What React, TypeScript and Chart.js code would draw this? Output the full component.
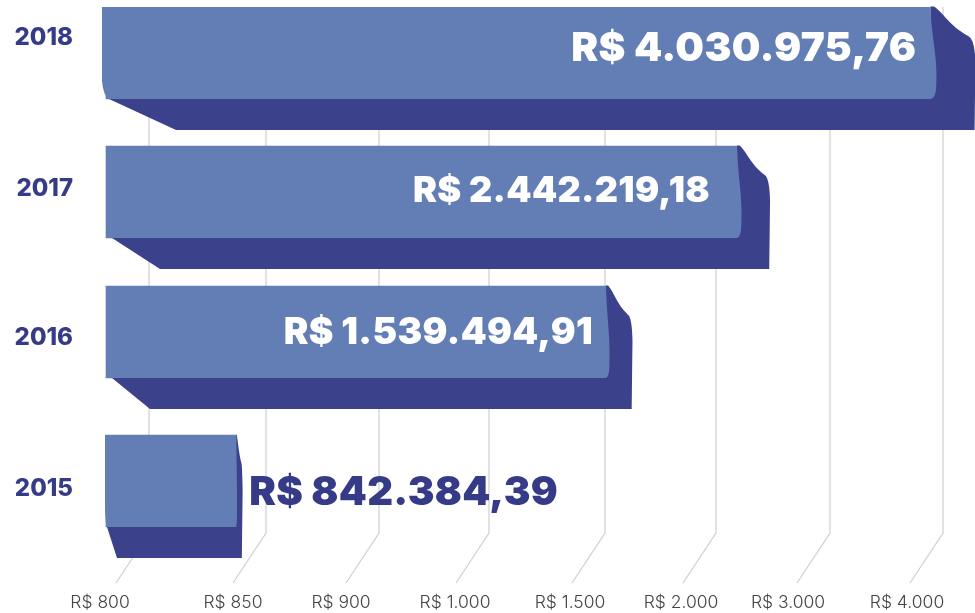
import React, { useEffect, useRef } from "react";
import { Chart, registerables, LinearScale, CategoryScale } from "chart.js";

const years = ["2018", "2017", "2016", "2015"];
const revenue = [4030975.76, 2442219.18, 1539494.91, 842384.39];
const valueLabels = ["R$ 4.030.975,76", "R$ 2.442.219,18", "R$ 1.539.494,91", "R$ 842.384,39"];
const tickValues = [800000, 850000, 900000, 1000000, 1500000, 2000000, 3000000, 4000000];
const tickLabels = ["R$ 800", "R$ 850", "R$ 900", "R$ 1.000", "R$ 1.500", "R$ 2.000", "R$ 3.000", "R$ 4.000"];
const baseValue = 750000;

// Irregular axis: pixel stops of the three planes of the drawing
const labelStops = [100, 233, 341, 455, 570, 681, 788, 907];
const gridStops = [149, 266, 379, 489, 605, 716, 830, 943];
const barStops = [106, 120, 257, 370, 480, 598, 699, 785, 926];
const barStopValues = [baseValue, ...tickValues];
const yearLabelStops = [37.5, 188.5, 337.5, 488.5];
const barCentreStops = [53, 192, 332, 481];
const barDepth = [45, 33, 26.5, 6.5];
const cornerInset = [7, 6, 6, 2];
const floorShift = [67, 48, 38, 10];
const leftShift = [-4, 0, 0, -1];
const labelShift = [-14, -27, -13, 13];
const labelCentre = [49, 191, 333, 493];
const labelSize = [40.4, 36, 37, 40];

const FRONT = "#627eb5";
const BACK = "#3c418b";
const NAVY = "#363b88";

function interpolate(v: number, xs: number[], ys: number[]) {
  const n = xs.length;
  let i = 0;
  while (i < n - 2 && v > xs[i + 1]) i++;
  return ys[i] + ((v - xs[i]) / (xs[i + 1] - xs[i])) * (ys[i + 1] - ys[i]);
}

class StopScale extends (LinearScale as any) {
  static id = "stops";
  static defaults = (LinearScale as any).defaults;
  buildTicks() {
    return tickValues.map((value) => ({ value }));
  }
  getPixelForValue(v: number) {
    return interpolate(v, this.options.stopValues, this.options.stops);
  }
  getValueForPixel(p: number) {
    return interpolate(p, this.options.stops, this.options.stopValues);
  }
}

class StopCategory extends (CategoryScale as any) {
  static id = "stopCategory";
  static defaults = (CategoryScale as any).defaults;
  getPixelForValue(v: any) {
    const i = typeof v === "number" ? v : this.parse(v);
    return this.options.stops[i];
  }
}

Chart.register(...registerables, StopScale as any, StopCategory as any);

const gridPlugin = {
  id: "elbowGrid",
  beforeDatasetsDraw(chart: any) {
    const { ctx } = chart;
    const s = chart.scales.xGrid;
    ctx.save();
    ctx.strokeStyle = "#cfcfcf";
    ctx.lineWidth = 1.2;
    tickValues.forEach((v) => {
      const x = s.getPixelForValue(v);
      ctx.beginPath();
      ctx.moveTo(x, 7);
      ctx.lineTo(x, 533);
      ctx.lineTo(x - 33, 583);
      ctx.stroke();
    });
    ctx.restore();
  },
};

const shapePlugin = {
  id: "bar3d",
  afterDatasetsDraw(chart: any) {
    const { ctx } = chart;
    const els = chart.getDatasetMeta(0).data;
    els.forEach((el: any, i: number) => {
      const fx = el.x;
      const top = el.y - 46;
      const bottom = el.y + 46;
      const left = el.base + leftShift[i];
      const d = barDepth[i];
      const inset = cornerInset[i];
      const bx = fx + d;
      const floor = bottom + 31;
      // extrusion
      ctx.fillStyle = BACK;
      ctx.beginPath();
      ctx.moveTo(fx, top - 0.5);
      ctx.lineTo(fx + d * 0.08, top - 0.5);
      ctx.bezierCurveTo(fx + d * 0.3, top + 6, fx + d * 0.4, top + 18, bx - d * 0.16, top + 29);
      ctx.quadraticCurveTo(bx - 0.5, top + 32, bx, top + 55);
      ctx.lineTo(bx - 0.8, floor);
      ctx.lineTo(left + inset + floorShift[i], floor);
      ctx.lineTo(left + inset, bottom);
      ctx.lineTo(fx, bottom);
      ctx.closePath();
      ctx.fill();
      // front face
      ctx.fillStyle = FRONT;
      ctx.beginPath();
      ctx.moveTo(left, top);
      ctx.lineTo(fx, top);
      ctx.bezierCurveTo(fx + d * 0.02, top + 30, fx + d * 0.17, top + 50, fx + d * 0.13, top + 78);
      ctx.quadraticCurveTo(fx + d * 0.13, bottom, fx - 1, bottom);
      ctx.lineTo(left + inset, bottom);
      ctx.quadraticCurveTo(left + inset * 0.15, bottom - 4, left, bottom - 18);
      ctx.closePath();
      ctx.fill();
      // value label
      ctx.font = `900 ${labelSize[i]}px Inter`;
      (ctx as any).letterSpacing = "0.3px";
      ctx.textBaseline = "middle";
      const inside = i < 3;
      ctx.textAlign = inside ? "right" : "left";
      ctx.fillStyle = inside ? "#ffffff" : NAVY;
      ctx.fillText(valueLabels[i], fx + labelShift[i], labelCentre[i]);
      (ctx as any).letterSpacing = "0px";
    });
  },
};

export default function App() {
  const ref = useRef<HTMLCanvasElement>(null);
  useEffect(() => {
    document.body.style.margin = "0";
    document.body.style.overflow = "hidden";
    const chart = new Chart(ref.current as any, {
      type: "bar",
      data: {
        labels: years,
        datasets: [
          {
            label: "Receita",
            data: revenue,
            base: baseValue,
            xAxisID: "xBar",
            yAxisID: "yBar",
            backgroundColor: FRONT,
            barThickness: 92,
            borderWidth: 0,
          } as any,
        ],
      },
      plugins: [gridPlugin, shapePlugin],
      options: {
        indexAxis: "y",
        animation: false,
        responsive: false,
        events: [],
        plugins: { legend: { display: false }, tooltip: { enabled: false }, title: { display: false } },
        layout: { padding: 0 },
        scales: {
          x: {
            type: "stops",
            axis: "x",
            position: "bottom",
            min: baseValue,
            max: 4200000,
            stops: labelStops,
            stopValues: tickValues,
            grid: { display: false, drawTicks: false },
            border: { display: false },
            afterFit: (s: any) => { s.height = 24; },
            ticks: {
              autoSkip: false,
              maxRotation: 0,
              padding: 3,
              color: "#444444",
              font: { family: "Inter", size: 17.5, weight: "300" },
              callback: (_v: any, i: number) => tickLabels[i],
            },
          },
          xGrid: { type: "stops", axis: "x", display: false, min: baseValue, max: 4200000, stops: gridStops, stopValues: tickValues },
          xBar: { type: "stops", axis: "x", display: false, min: baseValue, max: 4200000, stops: barStops, stopValues: barStopValues },
          y: {
            type: "stopCategory",
            axis: "y",
            position: "left",
            stops: yearLabelStops,
            grid: { display: false, drawTicks: false },
            border: { display: false },
            afterFit: (s: any) => { s.width = 80; },
            ticks: {
              padding: 7,
              color: NAVY,
              font: { family: "Inter", size: 24, weight: "800" },
            },
          },
          yBar: { type: "stopCategory", axis: "y", display: false, stops: barCentreStops },
        },
      } as any,
    });
    return () => chart.destroy();
  }, []);
  return <canvas ref={ref} width={975} height={613} style={{ display: "block" }} />;
}
